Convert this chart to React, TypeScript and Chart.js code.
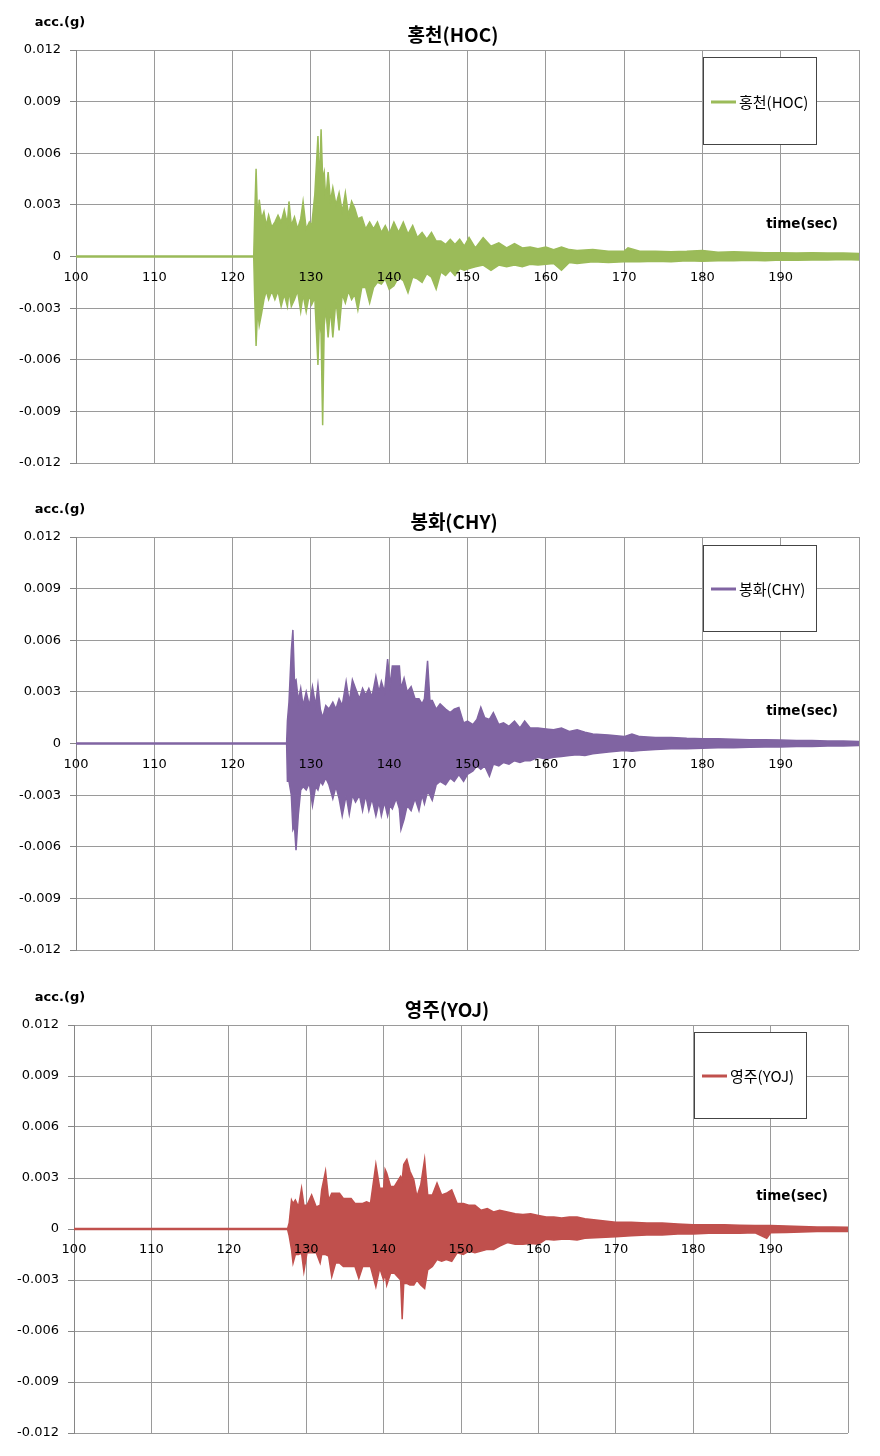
import React, { useEffect, useRef } from 'react';
import { Chart, registerables } from 'chart.js';

Chart.register(...registerables);

// ---------- data (acceleration envelope, in 0.001 g) ----------
const X_TICKS = [100, 110, 120, 130, 140, 150, 160, 170, 180, 190];

const HOC_T = [100, 122.7, 122.8, 123.0, 123.2, 123.4, 123.7, 124.0, 124.3, 124.6, 125.0, 125.4, 125.8, 126.2, 126.6, 127.0, 127.2, 127.5, 127.9, 128.3, 128.7, 129.0, 129.4, 129.8, 130.1, 130.5, 130.9, 131.1, 131.3, 131.5, 131.7, 131.9, 132.2, 132.5, 132.8, 133.2, 133.6, 134.0, 134.4, 134.8, 135.2, 135.6, 136.0, 136.5, 137.0, 137.5, 138.0, 138.5, 139.0, 139.5, 140.0, 140.6, 141.2, 141.8, 142.4, 143.0, 143.6, 144.2, 144.8, 145.4, 146.0, 146.6, 147.2, 147.8, 148.4, 149.0, 149.6, 150.2, 151, 152, 153, 154, 155, 156, 157, 158, 159, 160, 161, 162, 163, 164, 166, 168, 170, 170.5, 172, 174, 176, 178, 180, 182, 184, 186, 188, 190, 192, 194, 196, 198, 200];
const HOC_MAX = [0.03, 0.03, 2.0, 5.1, 2.0, 3.3, 2.2, 2.6, 1.8, 2.4, 1.7, 2.0, 2.4, 2.0, 2.7, 1.9, 3.2, 1.8, 2.3, 1.6, 2.2, 3.2, 1.6, 2.0, 1.8, 3.6, 7.0, 4.0, 7.4, 4.5, 4.9, 3.3, 4.9, 3.2, 4.0, 3.0, 3.7, 2.6, 3.7, 2.4, 3.2, 2.8, 2.2, 2.3, 1.6, 2.0, 1.6, 2.0, 1.4, 1.8, 1.3, 2.0, 1.4, 2.0, 1.3, 1.8, 1.1, 1.4, 1.0, 1.4, 0.9, 0.9, 0.7, 1.0, 0.7, 1.0, 0.6, 1.1, 0.5, 1.1, 0.6, 0.8, 0.5, 0.75, 0.5, 0.55, 0.45, 0.55, 0.4, 0.55, 0.4, 0.35, 0.4, 0.3, 0.3, 0.5, 0.3, 0.3, 0.28, 0.3, 0.35, 0.25, 0.28, 0.25, 0.22, 0.22, 0.2, 0.22, 0.2, 0.2, 0.18];
const HOC_MIN = [-0.03, -0.03, -2.0, -5.2, -3.0, -4.0, -3.3, -2.5, -2.0, -2.5, -2.0, -2.5, -2.0, -2.9, -2.2, -2.9, -2.0, -2.9, -2.5, -2.0, -3.2, -2.2, -3.2, -2.2, -2.8, -2.4, -6.3, -3.5, -4.5, -9.8, -4.0, -3.0, -4.7, -3.0, -4.7, -2.5, -4.3, -2.2, -2.7, -2.0, -2.5, -2.2, -3.1, -1.8, -1.8, -2.7, -1.8, -1.5, -1.6, -1.3, -1.9, -1.7, -1.2, -1.4, -2.1, -1.2, -1.3, -1.5, -1.0, -1.2, -1.9, -0.9, -1.1, -0.8, -1.1, -0.7, -0.8, -0.7, -0.6, -0.5, -0.8, -0.5, -0.6, -0.5, -0.6, -0.45, -0.5, -0.45, -0.4, -0.8, -0.35, -0.4, -0.3, -0.35, -0.3, -0.3, -0.3, -0.28, -0.3, -0.25, -0.28, -0.25, -0.25, -0.22, -0.25, -0.2, -0.22, -0.2, -0.2, -0.18, -0.2];

const CHY_T = [100, 126.9, 127.0, 127.2, 127.5, 127.7, 127.9, 128.1, 128.4, 128.7, 129.0, 129.4, 129.8, 130.2, 130.6, 130.9, 131.2, 131.5, 131.9, 132.3, 132.8, 133.2, 133.6, 134.0, 134.5, 134.9, 135.3, 135.7, 136.2, 136.6, 137.0, 137.4, 137.8, 138.3, 138.7, 139.0, 139.4, 139.8, 140.1, 140.4, 140.9, 141.3, 141.5, 141.9, 142.3, 142.8, 143.3, 143.8, 144.2, 144.5, 144.9, 145.2, 145.5, 146.0, 146.5, 147.2, 147.8, 148.3, 148.9, 149.5, 150.0, 150.7, 151.2, 151.7, 152.2, 152.8, 153.3, 154.0, 154.6, 155.3, 156.0, 156.7, 157.3, 158.0, 159.0, 160.0, 161.0, 162.0, 163.0, 164.0, 165.0, 166.0, 168.0, 170.0, 171.0, 172.0, 174.0, 176.0, 178.0, 180.0, 182.0, 184.0, 186.0, 188.0, 190.0, 192.0, 194.0, 196.0, 198.0, 200.0];
const CHY_MAX = [0.03, 0.03, 1.3, 2.4, 5.4, 6.6, 3.6, 3.7, 2.5, 3.2, 2.2, 3.0, 2.2, 3.3, 2.2, 3.4, 2.0, 1.5, 2.2, 2.0, 2.4, 2.0, 2.6, 2.2, 3.6, 2.4, 3.7, 3.2, 2.6, 3.2, 2.8, 3.2, 2.7, 3.9, 3.0, 3.6, 3.0, 4.9, 3.4, 4.5, 4.5, 4.5, 3.2, 3.8, 3.0, 3.3, 2.6, 2.6, 2.3, 2.6, 4.8, 2.5, 2.5, 2.0, 2.3, 2.0, 1.8, 2.0, 2.1, 1.2, 1.3, 1.1, 1.4, 2.1, 1.5, 1.4, 1.8, 1.1, 1.2, 1.0, 1.3, 0.9, 1.3, 0.9, 0.9, 0.85, 0.8, 0.9, 0.7, 0.8, 0.65, 0.55, 0.5, 0.4, 0.55, 0.4, 0.35, 0.35, 0.3, 0.28, 0.28, 0.25, 0.22, 0.22, 0.2, 0.18, 0.18, 0.15, 0.15, 0.12];
const CHY_MIN = [-0.03, -0.03, -2.2, -2.2, -3.0, -5.0, -4.8, -6.2, -4.1, -2.7, -2.5, -2.7, -2.3, -3.6, -2.5, -2.7, -2.2, -2.4, -2.0, -2.4, -3.2, -2.5, -3.2, -4.2, -3.0, -4.1, -3.0, -3.4, -3.0, -3.9, -3.0, -3.9, -3.2, -4.2, -3.4, -4.2, -3.4, -4.2, -3.6, -3.8, -3.2, -3.8, -5.0, -4.4, -3.6, -3.9, -3.2, -3.9, -3.0, -3.5, -2.8, -3.0, -3.3, -2.4, -2.2, -2.4, -2.0, -2.2, -1.8, -2.2, -1.8, -1.6, -1.3, -1.5, -1.3, -1.9, -1.2, -1.3, -1.1, -1.2, -1.0, -1.1, -1.0, -1.0, -0.8, -0.9, -0.8, -0.75, -0.7, -0.65, -0.7, -0.6, -0.5, -0.4, -0.45, -0.4, -0.35, -0.3, -0.3, -0.28, -0.25, -0.25, -0.22, -0.2, -0.2, -0.18, -0.17, -0.15, -0.15, -0.12];

const YOJ_T = [100, 127.6, 127.8, 128.1, 128.3, 128.6, 129.0, 129.4, 129.7, 130.1, 130.7, 131.3, 131.8, 132.0, 132.5, 132.9, 133.3, 133.8, 134.3, 134.8, 135.3, 135.8, 136.3, 136.8, 137.3, 137.8, 138.3, 139.0, 139.5, 140.0, 140.2, 140.4, 140.9, 141.4, 142.2, 142.4, 142.6, 143.0, 143.4, 143.9, 144.3, 144.8, 145.3, 145.7, 146.3, 146.9, 147.5, 148.1, 148.8, 149.5, 150.3, 151.0, 151.8, 152.6, 153.4, 154.2, 155.0, 156.0, 157.0, 158.0, 159.0, 160.0, 161.0, 162.0, 163.0, 164.0, 165.0, 166.0, 168.0, 170.0, 172.0, 174.0, 176.0, 178.0, 180.0, 182.0, 184.0, 186.0, 188.0, 189.5, 190.0, 192.0, 194.0, 196.0, 198.0, 200.0];
const YOJ_MAX = [0.03, 0.03, 0.35, 1.7, 1.5, 1.7, 1.3, 2.4, 1.4, 1.4, 2.0, 1.3, 1.4, 2.3, 3.4, 1.7, 2.1, 2.1, 2.1, 1.8, 1.8, 1.8, 1.5, 1.5, 1.5, 1.6, 1.5, 3.8, 2.4, 2.4, 3.5, 3.3, 2.5, 2.5, 3.1, 2.9, 3.8, 4.1, 3.4, 2.9, 1.9, 2.6, 4.1, 2.0, 2.0, 2.7, 2.0, 2.1, 2.3, 1.5, 1.5, 1.4, 1.4, 1.1, 1.2, 1.0, 1.1, 1.0, 0.9, 0.85, 0.9, 0.8, 0.7, 0.7, 0.65, 0.7, 0.7, 0.6, 0.5, 0.4, 0.4, 0.35, 0.35, 0.3, 0.25, 0.25, 0.25, 0.22, 0.2, 0.2, 0.2, 0.18, 0.15, 0.12, 0.12, 0.1];
const YOJ_MIN = [-0.03, -0.03, -0.4, -1.2, -2.0, -1.5, -1.5, -1.4, -2.5, -1.4, -1.4, -1.4, -2.0, -1.5, -1.5, -1.6, -2.8, -2.0, -2.0, -2.2, -2.2, -2.2, -2.2, -2.9, -2.2, -2.2, -2.2, -3.4, -2.3, -3.0, -2.6, -3.3, -2.6, -2.6, -3.0, -5.3, -3.2, -3.2, -3.3, -3.3, -3.0, -3.3, -3.5, -2.4, -2.2, -1.8, -1.9, -1.8, -1.9, -1.4, -1.5, -1.3, -1.4, -1.3, -1.2, -1.2, -1.0, -0.8, -0.9, -0.9, -0.85, -0.9, -0.6, -0.65, -0.6, -0.6, -0.65, -0.55, -0.5, -0.45, -0.4, -0.35, -0.35, -0.3, -0.3, -0.25, -0.25, -0.25, -0.22, -0.55, -0.22, -0.2, -0.18, -0.15, -0.15, -0.15];

// ---------- layout / style ----------
const W = 880;
const TICK_FONT = { family: '"DejaVu Sans", Verdana, sans-serif', size: 13 };

type Panel = {
  title: string;
  color: string;
  t: number[];
  max: number[];
  min: number[];
  top: number;
  height: number;
  area: { left: number; top: number; right: number; bottom: number };
  titleX: number;
  titleY: number;
  accX: number;
  accY: number;
  timeRight: number;
  timeY: number;
  box: { x1: number; y1: number; x2: number; y2: number };
  legendY: number;
};

const PANELS: Panel[] = [
  {
    title: '홍천(HOC)', color: '#9BBB59', t: HOC_T, max: HOC_MAX, min: HOC_MIN,
    top: 0, height: 487, area: { left: 76, top: 50, right: 859, bottom: 463 },
    titleX: 453, titleY: 35, accX: 60, accY: 23, timeRight: 838, timeY: 224,
    box: { x1: 703, y1: 57, x2: 816, y2: 144 }, legendY: 102,
  },
  {
    title: '봉화(CHY)', color: '#8064A2', t: CHY_T, max: CHY_MAX, min: CHY_MIN,
    top: 487, height: 487, area: { left: 76, top: 50, right: 859, bottom: 463 },
    titleX: 454, titleY: 35, accX: 60, accY: 23, timeRight: 838, timeY: 224,
    box: { x1: 703, y1: 58, x2: 816, y2: 144 }, legendY: 102,
  },
  {
    title: '영주(YOJ)', color: '#C0504D', t: YOJ_T, max: YOJ_MAX, min: YOJ_MIN,
    top: 974, height: 482, area: { left: 74, top: 51, right: 848, bottom: 459 },
    titleX: 447, titleY: 36, accX: 60, accY: 24, timeRight: 828, timeY: 222,
    box: { x1: 694, y1: 58, x2: 806, y2: 144 }, legendY: 102,
  },
];

function ChartPanel({ p }: { p: Panel }) {
  const ref = useRef<HTMLCanvasElement>(null);
  useEffect(() => {
    if (!ref.current) return;
    const upper = p.t.map((t, i) => ({ x: t, y: p.max[i] / 1000 }));
    const lower = p.t.map((t, i) => ({ x: t, y: p.min[i] / 1000 }));

    const decor = {
      id: 'decor',
      afterDraw(chart: any) {
        const ctx = chart.ctx as CanvasRenderingContext2D;
        ctx.save();
        ctx.fillStyle = '#000';
        ctx.textBaseline = 'middle';
        // title
        ctx.font = 'bold 19px "Noto Sans CJK KR", sans-serif';
        ctx.textAlign = 'center';
        ctx.fillText(p.title, p.titleX, p.titleY);
        // y axis caption
        ctx.font = 'bold 13px "DejaVu Sans", Verdana, sans-serif';
        ctx.fillText('acc.(g)', p.accX, p.accY);
        // x axis caption
        ctx.font = 'bold 13.5px "DejaVu Sans", Verdana, sans-serif';
        ctx.textAlign = 'right';
        ctx.fillText('time(sec)', p.timeRight, p.timeY);
        // legend box
        const b = p.box;
        ctx.fillStyle = '#fff';
        ctx.fillRect(b.x1, b.y1, b.x2 - b.x1, b.y2 - b.y1);
        ctx.strokeStyle = '#444';
        ctx.lineWidth = 1;
        ctx.strokeRect(b.x1 + 0.5, b.y1 + 0.5, b.x2 - b.x1, b.y2 - b.y1);
        ctx.strokeStyle = p.color;
        ctx.lineWidth = 3;
        ctx.beginPath();
        ctx.moveTo(b.x1 + 8, p.legendY);
        ctx.lineTo(b.x1 + 33, p.legendY);
        ctx.stroke();
        ctx.fillStyle = '#000';
        ctx.textAlign = 'left';
        ctx.font = '15px "Noto Sans CJK KR", sans-serif';
        ctx.fillText(p.title, b.x1 + 36, p.legendY);
        ctx.restore();
      },
    };

    const chart = new Chart(ref.current, {
      type: 'line',
      data: {
        datasets: [
          {
            label: p.title, data: upper, borderColor: p.color, backgroundColor: p.color,
            borderWidth: 1.5, pointRadius: 0, fill: '+1', tension: 0,
          },
          {
            label: p.title + ' min', data: lower, borderColor: p.color, backgroundColor: p.color,
            borderWidth: 1.5, pointRadius: 0, fill: false, tension: 0,
          },
        ],
      },
      options: {
        animation: false,
        responsive: false,
        events: [],
        layout: {
          padding: {
            left: 0,
            top: p.area.top,
            right: W - p.area.right,
            bottom: p.height - p.area.bottom,
          },
        },
        plugins: { legend: { display: false }, tooltip: { enabled: false }, title: { display: false } },
        scales: {
          x: {
            type: 'linear',
            min: 100,
            max: 200,
            position: { y: 0 } as any,
            afterBuildTicks: (scale: any) => {
              scale.ticks = X_TICKS.concat([200]).map((v) => ({ value: v }));
            },
            ticks: {
              z: 1,
              color: '#000',
              font: TICK_FONT,
              padding: 13,
              maxRotation: 0,
              autoSkip: false,
              callback: (v: any) => (X_TICKS.includes(Number(v)) ? String(v) : ''),
            },
            grid: { color: '#9a9a9a', lineWidth: 1, drawTicks: false },
            border: { display: false },
          },
          y: {
            type: 'linear',
            min: -0.012,
            max: 0.012,
            afterFit: (scale: any) => { scale.width = p.area.left; },
            ticks: {
              stepSize: 0.003,
              color: '#000',
              font: TICK_FONT,
              padding: 9,
              callback: (v: any) => (Math.abs(Number(v)) < 1e-9 ? '0' : Number(v).toFixed(3)),
            },
            grid: { color: '#9a9a9a', lineWidth: 1, tickLength: 6, tickColor: '#868686' },
            border: { color: '#868686', width: 1 },
          },
        },
      },
      plugins: [decor],
    });
    return () => chart.destroy();
  }, [p]);

  return (
    <canvas
      ref={ref}
      width={W}
      height={p.height}
      style={{ position: 'absolute', left: 0, top: p.top, width: W, height: p.height, display: 'block' }}
    />
  );
}

export default function App() {
  return (
    <div style={{ position: 'absolute', left: 0, top: 0, width: W, height: 1456, background: '#fff' }}>
      {PANELS.map((p) => (
        <ChartPanel key={p.title} p={p} />
      ))}
    </div>
  );
}
